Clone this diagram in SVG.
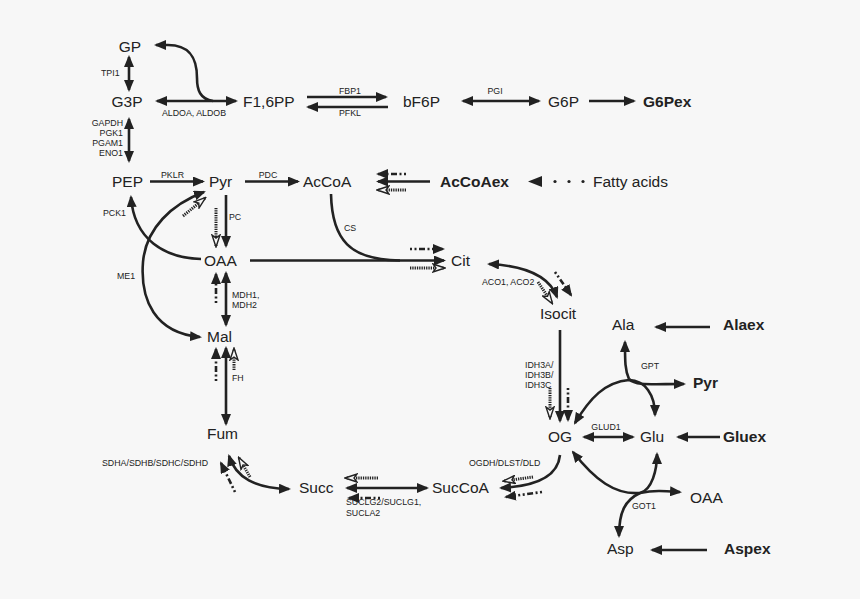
<svg xmlns="http://www.w3.org/2000/svg" width="860" height="599" viewBox="0 0 860 599">
<style>
.n{font-family:"Liberation Sans",Arial,sans-serif;font-size:15.5px;fill:#222}
.b{font-weight:bold}
.l{font-family:"Liberation Sans",Arial,sans-serif;font-size:8.8px;fill:#222}
.s{stroke:#222;stroke-width:2.6;fill:none}
.h{stroke:#222;stroke-width:3;stroke-dasharray:1.3 1;fill:none}
.d{stroke:#222;stroke-width:2.6;stroke-dasharray:2 2.5 2 2.5 6 2.5;fill:none}
.fa{marker-end:url(#a)}
.ba{marker-start:url(#a);marker-end:url(#a)}
.oa{marker-end:url(#o)}
</style>
<defs>
<marker id="a" viewBox="0 0 12 10" refX="10" refY="5" markerWidth="12" markerHeight="10" markerUnits="userSpaceOnUse" orient="auto-start-reverse"><path d="M0,0 L12,5 L0,10 z" fill="#222"/></marker>
<marker id="o" viewBox="0 0 14 10" refX="12" refY="5" markerWidth="14" markerHeight="10" markerUnits="userSpaceOnUse" orient="auto-start-reverse"><path d="M1,1 L13,5 L1,9 L4,5 z" fill="#f7f7f7" stroke="#222" stroke-width="1.4" stroke-linejoin="miter"/></marker>
</defs>
<rect width="860" height="599" fill="#f7f7f7"/>
<g id="connectors">
<path class="s ba" d="M129,57 L129,90"/>
<path class="s ba" d="M157,101 L236,101"/>
<path class="s fa" d="M213,101 C200,99 197,90 197,78 C197,58 190,45 168,45 L156,45"/>
<path class="s ba" d="M129,119 L129,161"/>
<path class="s fa" d="M307,97 L386,97"/>
<path class="s fa" d="M388,107 L308,107"/>
<path class="s ba" d="M463,101 L539,101"/>
<path class="s fa" d="M589,101 L634,101"/>
<path class="s fa" d="M150,181.5 L203,181.5"/>
<path class="s fa" d="M245,181.5 L298,181.5"/>
<path class="s fa" d="M430,181.5 L378,181.5"/>
<path class="d fa" d="M406,174 L378,174"/>
<path class="h oa" d="M406,190 L378,190"/>
<path d="M542,176 L528,181.5 L542,187 z" fill="#222"/>
<circle cx="555" cy="181.5" r="1.6" fill="#222"/>
<circle cx="569" cy="181.5" r="1.6" fill="#222"/>
<circle cx="583" cy="181.5" r="1.6" fill="#222"/>
<path class="s fa" d="M201,259 C165,258 134,240 131,197"/>
<path class="s ba" d="M204,192 C172,204 146,228 143,262 C140,300 155,333 200,337"/>
<path class="h oa" d="M183,216 L205,198"/>
<path class="s fa" d="M226,195 L226,246"/>
<path class="h oa" d="M216,208 L216,246"/>
<path class="s ba" d="M226,273 L226,325"/>
<path class="d fa" d="M216,303 L216,274"/>
<path class="s ba" d="M226,348 L226,424"/>
<path class="d fa" d="M216,381 L216,349"/>
<path class="h oa" d="M234,370 L234,349"/>
<path class="s fa" d="M250,260.5 L444,260.5"/>
<path class="s" d="M331,194 C332,240 350,260 400,260.5"/>
<path class="d fa" d="M410,249 L443,249"/>
<path class="h oa" d="M410,268 L444,268"/>
<path class="s ba" d="M489,264 C530,266 550,278 557,297"/>
<path class="h oa" d="M538,282 L552,303"/>
<path class="d fa" d="M555,272 L571,295"/>
<path class="s fa" d="M560,330 L560,421"/>
<path class="h oa" d="M550,388 L550,418"/>
<path class="d fa" d="M568,388 L568,420"/>
<path class="s fa" d="M710,327 L656,327"/>
<path class="s fa" d="M629,379 C625,370 625,362 625,342"/>
<path class="s fa" d="M629,379 C636,386 650,384 684,384"/>
<path class="s ba" d="M575,423 C590,398 605,382 629,380 C645,380 655,395 655,415"/>
<path class="s ba" d="M584,437 L633,437"/>
<path class="s fa" d="M720,437 L678,437"/>
<path class="s ba" d="M573,452 C595,480 615,495 640,493 C652,490 657,470 657,454"/>
<path class="s fa" d="M640,493 C655,490 665,491 680,492"/>
<path class="s fa" d="M640,493 C625,500 619,512 619,536"/>
<path class="s fa" d="M707,550 L652,550"/>
<path class="s fa" d="M560,455 C558,475 540,486 501,488"/>
<path class="h oa" d="M533,477 L504,481"/>
<path class="d fa" d="M542,492 L506,497"/>
<path class="s ba" d="M347,488 L427,488"/>
<path class="h oa" d="M378,478 L346,478"/>
<path class="d fa" d="M380,498 L349,498"/>
<path class="s ba" d="M229,456 C236,478 255,488 289,489"/>
<path class="d fa" d="M235,492 L221,463"/>
<path class="h oa" d="M250,477 L239,458"/>
</g>
<g id="labels">
<text class="l" x="101" y="76">TPI1</text>
<text class="l" x="194" y="116" text-anchor="middle">ALDOA, ALDOB</text>
<text class="l" x="123" y="126" text-anchor="end">GAPDH</text>
<text class="l" x="123" y="136" text-anchor="end">PGK1</text>
<text class="l" x="123" y="146" text-anchor="end">PGAM1</text>
<text class="l" x="123" y="156" text-anchor="end">ENO1</text>
<text class="l" x="350" y="94" text-anchor="middle">FBP1</text>
<text class="l" x="350" y="116" text-anchor="middle">PFKL</text>
<text class="l" x="495" y="94" text-anchor="middle">PGI</text>
<text class="l" x="172.5" y="178" text-anchor="middle">PKLR</text>
<text class="l" x="268" y="178" text-anchor="middle">PDC</text>
<text class="l" x="103" y="216">PCK1</text>
<text class="l" x="229" y="220">PC</text>
<text class="l" x="344" y="231">CS</text>
<text class="l" x="117" y="279">ME1</text>
<text class="l" x="232" y="298">MDH1,</text>
<text class="l" x="232" y="308">MDH2</text>
<text class="l" x="232" y="381">FH</text>
<text class="l" x="482" y="285">ACO1, ACO2</text>
<text class="l" x="525" y="368">IDH3A/</text>
<text class="l" x="525" y="378">IDH3B/</text>
<text class="l" x="525" y="388">IDH3C</text>
<text class="l" x="641" y="369">GPT</text>
<text class="l" x="606" y="430" text-anchor="middle">GLUD1</text>
<text class="l" x="469" y="466">OGDH/DLST/DLD</text>
<text class="l" x="102" y="466">SDHA/SDHB/SDHC/SDHD</text>
<text class="l" x="346" y="505">SUCLG2/SUCLG1,</text>
<text class="l" x="346" y="516">SUCLA2</text>
<text class="l" x="632" y="509">GOT1</text>
</g>
<g id="GP"><text class="n" x="130" y="51.7" text-anchor="middle">GP</text></g>
<g id="G3P"><text class="n" x="127" y="107" text-anchor="middle">G3P</text></g>
<g id="F16PP"><text class="n" x="243" y="107">F1,6PP</text></g>
<g id="bF6P"><text class="n" x="403" y="107">bF6P</text></g>
<g id="G6P"><text class="n" x="548" y="107">G6P</text></g>
<g id="G6Pex"><text class="n b" x="643" y="107">G6Pex</text></g>
<g id="PEP"><text class="n" x="112" y="187">PEP</text></g>
<g id="Pyr"><text class="n" x="209" y="187">Pyr</text></g>
<g id="AcCoA"><text class="n" x="303" y="186.5">AcCoA</text></g>
<g id="AcCoAex"><text class="n b" x="440" y="186.5">AcCoAex</text></g>
<g id="FattyAcids"><text class="n" x="593" y="186.5">Fatty acids</text></g>
<g id="OAA"><text class="n" x="204" y="265.5">OAA</text></g>
<g id="Cit"><text class="n" x="451" y="266">Cit</text></g>
<g id="Isocit"><text class="n" x="540" y="319">Isocit</text></g>
<g id="Ala"><text class="n" x="612" y="330">Ala</text></g>
<g id="Alaex"><text class="n b" x="723" y="330">Alaex</text></g>
<g id="Pyr2"><text class="n b" x="693" y="388">Pyr</text></g>
<g id="Mal"><text class="n" x="207" y="342">Mal</text></g>
<g id="Fum"><text class="n" x="207" y="439">Fum</text></g>
<g id="OG"><text class="n" x="548" y="442">OG</text></g>
<g id="Glu"><text class="n" x="640" y="442">Glu</text></g>
<g id="Gluex"><text class="n b" x="723" y="442">Gluex</text></g>
<g id="OAA2"><text class="n" x="690" y="503">OAA</text></g>
<g id="Asp"><text class="n" x="607" y="554">Asp</text></g>
<g id="Aspex"><text class="n b" x="724" y="554">Aspex</text></g>
<g id="Succ"><text class="n" x="299" y="493">Succ</text></g>
<g id="SucCoA"><text class="n" x="432" y="493">SucCoA</text></g>
</svg>
